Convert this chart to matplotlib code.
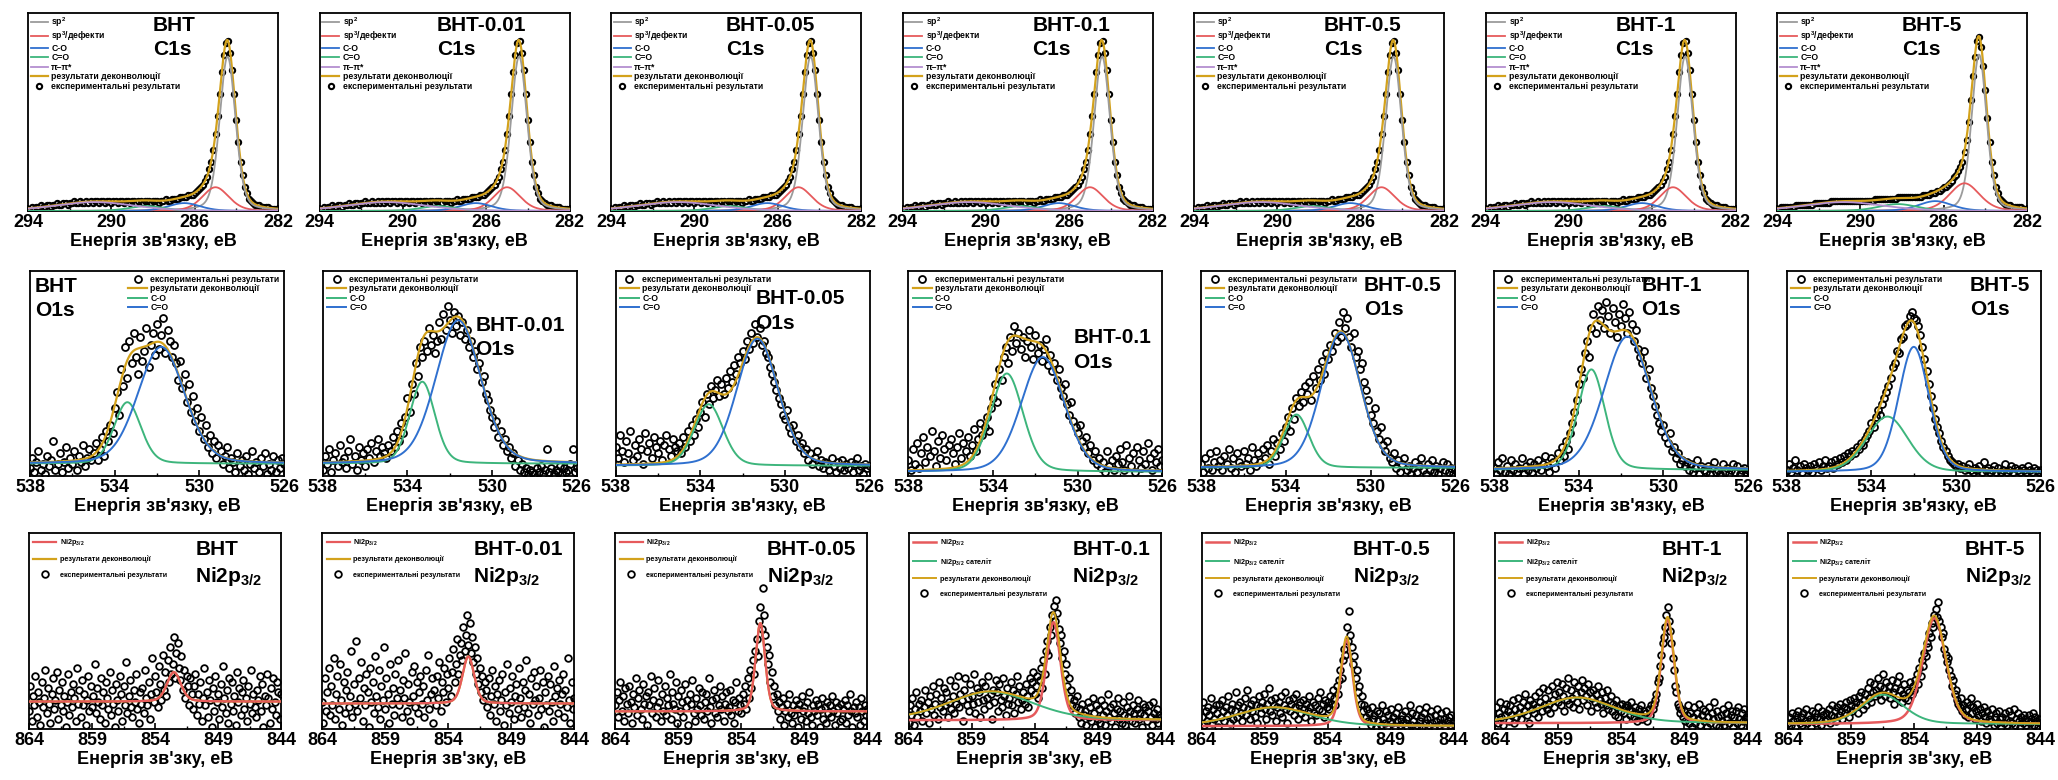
import numpy as np
import matplotlib
matplotlib.use("Agg")
from matplotlib import pyplot as plt

plt.rcParams['font.family'] = ['Liberation Sans', 'DejaVu Sans']
plt.rcParams['font.weight'] = 'bold'
plt.rcParams['mathtext.fontset'] = 'custom'
plt.rcParams['mathtext.rm'] = 'Liberation Sans:bold'
plt.rcParams['mathtext.it'] = 'Liberation Sans:bold'
plt.rcParams['mathtext.bf'] = 'Liberation Sans:bold'

samples = ['BHT', 'BHT-0.01', 'BHT-0.05', 'BHT-0.1', 'BHT-0.5', 'BHT-1', 'BHT-5']

# ---------------- C1s (294 -> 282 eV, step 0.1), intensity in % of panel height
c1s_energy = np.linspace(294, 282, 121)
c1s_exp_low = [1, 1, 2, 1, 2, 2, 3, 2, 2, 3,
               3, 2, 3, 3, 4, 3, 3, 4, 4, 3,
               4, 4, 5, 4, 4, 5, 4, 4, 5, 4,
               5, 4, 5, 5, 4, 5, 5, 4, 5, 5,
               4, 5, 5, 4, 5, 5, 4, 5, 5, 4,
               5, 5, 4, 5, 5, 4, 5, 5, 5, 4,
               5, 5, 5, 4, 5, 5, 6, 5, 5, 6,
               6, 6, 6, 7, 7, 7, 7, 8, 8, 8,
               9, 10, 11, 12, 13, 15, 17, 21, 25, 31,
               39, 48, 59, 70, 79, 85, 86, 80, 71, 59,
               46, 35, 25, 18, 12, 9, 6, 5, 4, 3,
               3, 3, 2, 2, 2, 2, 1, 1, 1, 1,
               1]
c1s_exp_5 = [1, 1, 2, 2, 2, 2, 2, 2, 2, 3,
             3, 3, 3, 3, 3, 3, 3, 3, 4, 4,
             4, 4, 4, 4, 4, 4, 5, 5, 5, 5,
             5, 5, 5, 5, 5, 5, 5, 5, 5, 5,
             5, 5, 5, 5, 5, 5, 5, 6, 6, 6,
             6, 6, 6, 6, 6, 6, 6, 6, 7, 7,
             7, 7, 7, 7, 7, 7, 7, 7, 7, 7,
             8, 8, 8, 8, 9, 9, 9, 10, 10, 11,
             12, 12, 13, 14, 15, 17, 18, 20, 22, 25,
             30, 36, 45, 56, 68, 78, 86, 88, 83, 73,
             61, 47, 35, 25, 18, 12, 9, 6, 5, 4,
             3, 3, 3, 2, 2, 2, 2, 2, 1, 1,
             1]
c1s_exp = [c1s_exp_low] * 6 + [c1s_exp_5]
# (centre eV, height %, FWHM eV) for each sample
c1s_sp2 = [(284.42, 78, 0.90)] * 6 + [(284.30, 79, 0.85)]
c1s_sp3 = [(285.0, 12, 1.5)] * 6 + [(285.0, 14, 1.7)]
c1s_co = [(286.5, 4, 1.8)] * 6 + [(286.4, 5, 1.9)]
c1s_cdo = [(288.3, 2.5, 2.0)] * 6 + [(288.2, 3.5, 2.2)]
c1s_pi = [(290.8, 4.5, 4.5)] * 7

# ---------------- O1s (538 -> 526 eV, step 0.1)
o1s_energy = np.linspace(538, 526, 121)
o1s_exp_bht = [4, 9, 2, 7, 12, 3, 6, 1, 10, 5,
               8, 17, 3, 6, 11, 2, 7, 14, 4, 9,
               6, 12, 3, 10, 7, 15, 5, 9, 13, 8,
               11, 16, 8, 13, 19, 10, 22, 17, 25, 21,
               33, 41, 30, 52, 44, 63, 48, 66, 55, 70,
               58, 50, 68, 56, 61, 72, 53, 64, 70, 59,
               74, 62, 69, 77, 60, 71, 66, 58, 64, 55,
               47, 56, 43, 50, 36, 45, 31, 39, 27, 33,
               22, 29, 18, 25, 14, 20, 11, 17, 9, 15,
               12, 6, 10, 14, 4, 9, 7, 2, 11, 5,
               8, 3, 10, 1, 6, 12, 4, 7, 2, 9,
               5, 11, 1, 6, 3, 10, 2, 8, 4, 9,
               6]
o1s_exp_001 = [3, 10, 6, 13, 2, 8, 11, 5, 15, 7,
               9, 4, 12, 18, 6, 10, 3, 14, 8, 11,
               5, 13, 9, 16, 7, 12, 18, 10, 14, 11,
               9, 15, 12, 19, 14, 22, 17, 26, 21, 29,
               38, 31, 45, 40, 55, 49, 63, 58, 66, 61,
               72, 64, 69, 60, 66, 75, 67, 79, 71, 83,
               76, 70, 80, 73, 78, 69, 75, 67, 71, 63,
               66, 58, 61, 52, 55, 46, 49, 40, 37, 32,
               29, 24, 27, 19, 22, 15, 18, 12, 14, 9,
               11, 5, 8, 3, 6, 2, 4, 1, 3, 2,
               1, 4, 2, 5, 1, 3, 13, 2, 4, 1,
               3, 2, 5, 1, 4, 2, 3, 6, 13, 2,
               4]
o1s_exp_005 = [14, 9, 20, 12, 7, 17, 11, 22, 8, 15,
               10, 18, 13, 6, 21, 12, 16, 9, 19, 14,
               11, 17, 8, 15, 20, 13, 10, 18, 14, 12,
               16, 11, 19, 14, 22, 17, 25, 20, 28, 24,
               31, 36, 29, 40, 35, 44, 38, 42, 47, 39,
               45, 40, 48, 43, 51, 46, 54, 50, 58, 55,
               61, 57, 66, 62, 70, 65, 74, 68, 72, 64,
               66, 60, 58, 53, 50, 46, 42, 38, 35, 30,
               28, 32, 24, 21, 25, 17, 20, 14, 16, 11,
               13, 8, 11, 6, 9, 12, 5, 8, 4, 7,
               6, 3, 9, 5, 2, 7, 4, 8, 3, 6,
               4, 7, 2, 6, 9, 3, 5, 1, 6, 4,
               5]
o1s_exp_01 = [8, 3, 13, 6, 16, 4, 11, 19, 7, 14,
              10, 22, 12, 5, 17, 9, 20, 13, 8, 15,
              18, 11, 6, 14, 21, 9, 16, 12, 19, 10,
              15, 23, 12, 18, 26, 20, 24, 29, 22, 33,
              38, 45, 36, 52, 47, 58, 63, 55, 68, 61,
              73, 65, 70, 62, 68, 58, 66, 71, 63, 57,
              69, 60, 64, 56, 62, 67, 54, 59, 51, 55,
              47, 52, 43, 39, 45, 35, 30, 36, 27, 24,
              21, 25, 17, 14, 19, 11, 15, 8, 12, 6,
              9, 4, 7, 2, 12, 5, 8, 3, 10, 6,
              13, 7, 3, 15, 9, 5, 11, 2, 14, 8,
              4, 12, 6, 16, 9, 3, 11, 7, 13, 5,
              8]
o1s_exp_05 = [6, 2, 9, 4, 11, 3, 7, 12, 5, 8,
              3, 10, 6, 13, 4, 9, 2, 11, 7, 5,
              12, 6, 9, 3, 14, 8, 5, 11, 7, 13,
              9, 15, 6, 12, 18, 10, 16, 13, 21, 17,
              24, 29, 22, 33, 28, 38, 34, 41, 36, 44,
              40, 46, 37, 49, 43, 52, 47, 56, 50, 60,
              57, 64, 61, 70, 66, 75, 68, 80, 72, 77,
              68, 63, 70, 58, 61, 52, 55, 46, 42, 37,
              30, 26, 33, 22, 18, 24, 15, 12, 17, 9,
              7, 11, 4, 8, 2, 6, 9, 3, 5, 1,
              4, 7, 2, 5, 9, 3, 1, 6, 3, 8,
              2, 5, 1, 4, 7, 3, 6, 2, 4, 1,
              3]
o1s_exp_1 = [4, 1, 7, 3, 9, 2, 5, 1, 8, 3,
             6, 2, 4, 9, 1, 5, 3, 7, 2, 6,
             4, 8, 3, 6, 10, 5, 2, 9, 7, 4,
             11, 8, 14, 10, 17, 13, 21, 26, 31, 37,
             45, 52, 48, 60, 66, 58, 72, 79, 70, 83,
             76, 81, 72, 85, 78, 70, 82, 75, 68, 79,
             73, 84, 77, 70, 80, 74, 66, 71, 62, 58,
             55, 61, 48, 52, 43, 39, 34, 30, 26, 22,
             25, 19, 16, 21, 12, 14, 9, 11, 6, 8,
             5, 7, 3, 6, 2, 4, 8, 1, 5, 3,
             2, 5, 1, 4, 7, 2, 3, 1, 6, 2,
             4, 1, 3, 6, 2, 5, 1, 3, 4, 2,
             3]
o1s_exp_5 = [3, 6, 2, 4, 8, 3, 5, 2, 6, 4,
             3, 5, 2, 6, 4, 7, 3, 5, 8, 4,
             5, 7, 4, 8, 6, 9, 7, 10, 8, 11,
             10, 12, 11, 14, 13, 16, 15, 18, 20, 22,
             26, 24, 29, 32, 30, 35, 38, 41, 44, 48,
             53, 55, 61, 60, 67, 68, 73, 74, 78, 80,
             77, 76, 73, 69, 63, 57, 51, 45, 39, 33,
             28, 24, 21, 17, 14, 12, 10, 8, 7, 6,
             5, 6, 4, 5, 3, 4, 6, 3, 2, 4,
             3, 5, 2, 7, 3, 4, 2, 3, 5, 2,
             4, 2, 3, 6, 2, 3, 5, 2, 4, 3,
             2, 4, 3, 2, 5, 3, 2, 4, 3, 2,
             3]
o1s_exp = [o1s_exp_bht, o1s_exp_001, o1s_exp_005, o1s_exp_01,
           o1s_exp_05, o1s_exp_1, o1s_exp_5]
o1s_base = [6, 6, 5, 2, 4, 3, 2]
o1s_co = [(533.4, 30, 1.5), (533.3, 40, 1.4), (533.6, 30, 1.6), (533.35, 48, 1.8),
          (533.5, 26, 1.4), (533.4, 49, 1.5), (533.25, 27, 2.3)]
o1s_cdo = [(531.8, 57, 2.6), (531.6, 70, 2.5), (531.3, 62, 2.3), (531.65, 56, 2.4),
           (531.4, 66, 2.2), (531.7, 65, 2.6), (532.0, 61, 1.7)]

# ---------------- Ni2p3/2 (864 -> 844 eV, step 0.1)
ni_energy = np.linspace(864, 844, 201)
ni_exp_bht = [9, 22, 4, 17, 12, 27, 6, 19, 14, 2,
              24, 11, 16, 30, 8, 21, 13, 3, 18, 26,
              10, 15, 29, 5, 20, 12, 24, 9, 17, 1,
              14, 28, 7, 19, 11, 23, 16, 4, 31, 13,
              20, 6, 25, 12, 18, 2, 15, 27, 9, 22,
              11, 17, 33, 8, 21, 14, 5, 26, 12, 19,
              3, 24, 16, 10, 29, 7, 20, 13, 1, 23,
              15, 9, 27, 18, 4, 22, 12, 34, 8, 17,
              25, 11, 6, 20, 14, 28, 10, 3, 19, 13,
              21, 8, 30, 16, 12, 24, 5, 18, 36, 14,
              27, 19, 11, 32, 23, 15, 38, 20, 29, 17,
              35, 24, 42, 28, 33, 47, 26, 39, 44, 31,
              25, 37, 20, 30, 16, 27, 22, 12, 26, 18,
              10, 22, 28, 7, 18, 13, 24, 4, 16, 31,
              12, 19, 6, 25, 15, 1, 21, 9, 27, 14,
              18, 5, 23, 11, 32, 16, 8, 20, 3, 26,
              13, 24, 9, 17, 2, 29, 14, 21, 7, 19,
              25, 10, 16, 4, 22, 13, 30, 8, 18, 11,
              6, 20, 15, 27, 9, 23, 1, 17, 12, 28,
              16, 3, 21, 10, 26, 14, 7, 24, 19, 5,
              18]
ni_exp_001 = [14, 3, 26, 9, 19, 31, 7, 22, 12, 36,
              5, 18, 27, 10, 33, 15, 2, 24, 8, 20,
              29, 11, 17, 40, 6, 23, 13, 45, 9, 26,
              16, 34, 4, 21, 12, 28, 19, 1, 31, 14,
              24, 8, 37, 17, 11, 30, 5, 22, 15, 42,
              10, 26, 18, 3, 33, 13, 21, 7, 28, 16,
              35, 12, 20, 6, 25, 16, 39, 9, 23, 14,
              4, 29, 17, 32, 11, 24, 8, 19, 27, 13,
              22, 6, 30, 15, 38, 10, 18, 26, 3, 20,
              12, 27, 16, 34, 9, 24, 19, 31, 14, 28,
              21, 36, 17, 29, 41, 24, 33, 46, 28, 38,
              44, 35, 52, 40, 48, 58, 43, 54, 39, 47,
              34, 42, 28, 36, 23, 31, 19, 27, 15, 24,
              20, 11, 26, 7, 17, 30, 13, 22, 4, 18,
              25, 9, 15, 28, 2, 19, 12, 33, 8, 21,
              14, 27, 5, 17, 23, 10, 31, 16, 6, 24,
              11, 20, 35, 8, 18, 3, 26, 13, 29, 15,
              22, 7, 16, 30, 10, 24, 1, 19, 12, 27,
              9, 23, 14, 4, 32, 17, 21, 8, 25, 13,
              18, 28, 6, 20, 11, 36, 15, 3, 24, 10,
              16]
ni_exp_005 = [12, 19, 6, 15, 24, 9, 17, 4, 21, 13,
              8, 22, 14, 3, 18, 11, 26, 7, 16, 20,
              10, 5, 23, 13, 17, 2, 19, 12, 27, 8,
              15, 21, 6, 11, 25, 14, 4, 18, 9, 22,
              7, 16, 12, 28, 5, 19, 13, 10, 24, 3,
              17, 9, 20, 14, 6, 23, 11, 15, 2, 18,
              13, 25, 8, 4, 16, 10, 21, 12, 7, 19,
              5, 14, 18, 9, 26, 11, 3, 15, 20, 8,
              16, 6, 12, 22, 10, 17, 4, 13, 19, 9,
              11, 20, 7, 15, 3, 14, 24, 9, 16, 12,
              8, 18, 13, 22, 10, 26, 16, 30, 21, 35,
              28, 40, 46, 37, 55, 62, 51, 72, 58, 48,
              42, 33, 38, 24, 29, 17, 22, 12, 18, 9,
              14, 5, 11, 16, 2, 9, 13, 6, 18, 8,
              3, 12, 7, 15, 10, 1, 13, 5, 17, 9,
              11, 4, 14, 8, 19, 6, 2, 12, 9, 15,
              7, 13, 1, 10, 16, 5, 11, 3, 14, 8,
              12, 6, 17, 9, 2, 14, 8, 11, 4, 13,
              5, 10, 15, 3, 12, 7, 18, 9, 1, 11,
              8, 14, 6, 11, 2, 16, 9, 4, 12, 7,
              10]
ni_exp_01 = [3, 12, 7, 16, 2, 10, 19, 6, 13, 9,
             15, 4, 11, 20, 8, 14, 3, 17, 10, 22,
             7, 13, 18, 5, 24, 11, 16, 9, 21, 12,
             19, 6, 14, 25, 10, 17, 8, 22, 13, 27,
             11, 18, 15, 4, 20, 26, 12, 16, 9, 23,
             17, 13, 28, 8, 21, 14, 19, 6, 24, 15,
             10, 22, 16, 27, 12, 18, 5, 20, 14, 25,
             19, 9, 23, 15, 11, 26, 17, 7, 21, 13,
             16, 24, 12, 20, 8, 18, 27, 14, 22, 10,
             15, 19, 13, 23, 17, 11, 26, 20, 24, 29,
             18, 22, 27, 16, 25, 31, 21, 35, 28, 40,
             45, 38, 52, 48, 58, 63, 55, 66, 59, 51,
             44, 48, 36, 40, 28, 33, 22, 26, 16, 20,
             12, 15, 8, 11, 17, 6, 10, 3, 13, 7,
             9, 2, 14, 6, 11, 4, 16, 8, 1, 12,
             5, 10, 3, 15, 7, 12, 2, 9, 18, 6,
             11, 4, 13, 8, 1, 10, 16, 5, 9, 3,
             14, 7, 2, 11, 6, 17, 9, 4, 12, 8,
             3, 10, 15, 5, 8, 1, 13, 7, 11, 4,
             9, 12, 6, 2, 14, 8, 5, 10, 3, 7,
             6]
ni_exp_05 = [6, 14, 2, 9, 4, 11, 7, 16, 3, 10,
             5, 12, 8, 1, 13, 6, 15, 9, 4, 11,
             7, 17, 3, 10, 13, 5, 9, 19, 6, 12,
             14, 8, 4, 11, 16, 7, 20, 10, 5, 13,
             9, 15, 6, 12, 3, 17, 11, 8, 14, 18,
             10, 5, 13, 21, 9, 15, 7, 12, 16, 4,
             11, 14, 8, 17, 6, 12, 19, 10, 3, 15,
             9, 13, 16, 7, 11, 18, 5, 12, 14, 8,
             15, 10, 6, 13, 9, 17, 11, 4, 14, 8,
             12, 7, 16, 10, 19, 9, 13, 6, 15, 11,
             14, 10, 17, 13, 20, 16, 12, 22, 18, 25,
             30, 26, 35, 41, 38, 52, 45, 60, 48, 42,
             33, 37, 26, 30, 19, 22, 13, 17, 9, 12,
             6, 10, 4, 8, 2, 11, 5, 7, 1, 9,
             4, 8, 2, 12, 5, 3, 9, 1, 7, 4,
             10, 3, 6, 1, 8, 4, 11, 2, 5, 7,
             3, 9, 5, 1, 6, 12, 2, 8, 4, 1,
             7, 2, 10, 4, 6, 1, 8, 3, 11, 5,
             2, 6, 9, 3, 1, 7, 4, 10, 2, 5,
             8, 3, 5, 1, 9, 4, 6, 2, 7, 3,
             4]
ni_exp_1 = [5, 11, 3, 8, 14, 6, 2, 10, 7, 13,
            9, 4, 12, 7, 15, 3, 10, 6, 16, 8,
            11, 5, 14, 9, 18, 7, 12, 3, 15, 10,
            13, 8, 17, 11, 6, 19, 14, 9, 21, 12,
            16, 10, 20, 13, 8, 22, 15, 11, 18, 24,
            14, 19, 12, 23, 17, 9, 21, 15, 26, 13,
            20, 16, 11, 24, 18, 14, 22, 10, 19, 25,
            15, 21, 17, 12, 23, 19, 9, 16, 20, 14,
            18, 11, 22, 15, 13, 19, 8, 16, 12, 20,
            10, 14, 17, 9, 13, 7, 15, 11, 6, 12,
            9, 13, 8, 11, 5, 12, 10, 7, 14, 9,
            6, 11, 8, 4, 10, 7, 12, 5, 9, 6,
            8, 4, 10, 7, 12, 10, 13, 15, 18, 24,
            26, 32, 38, 44, 47, 52, 58, 62, 55, 50,
            44, 36, 30, 22, 19, 13, 11, 8, 10, 6,
            9, 4, 7, 12, 3, 8, 1, 6, 11, 3,
            8, 5, 13, 2, 7, 10, 4, 9, 1, 6,
            11, 3, 8, 5, 14, 2, 9, 6, 1, 7,
            4, 10, 2, 8, 5, 12, 3, 7, 9, 1,
            6, 9, 3, 11, 5, 2, 8, 4, 10, 6,
            5]
ni_exp_5 = [3, 6, 2, 8, 4, 1, 7, 5, 9, 3,
            6, 2, 8, 4, 10, 3, 7, 5, 1, 9,
            4, 8, 3, 6, 11, 5, 2, 9, 7, 4,
            8, 5, 10, 3, 7, 12, 6, 9, 4, 11,
            7, 13, 9, 5, 11, 8, 14, 10, 6, 15,
            12, 9, 16, 11, 14, 8, 17, 13, 19, 10,
            15, 18, 12, 21, 16, 24, 14, 19, 23, 17,
            20, 26, 18, 22, 15, 28, 21, 17, 24, 19,
            22, 16, 25, 19, 13, 21, 24, 17, 27, 20,
            14, 18, 23, 16, 20, 15, 19, 24, 18, 22,
            20, 25, 28, 23, 31, 27, 35, 32, 39, 37,
            44, 42, 49, 47, 54, 52, 58, 61, 57, 65,
            55, 52, 47, 49, 41, 38, 34, 36, 30, 27,
            22, 25, 18, 20, 15, 13, 11, 16, 9, 12,
            7, 10, 14, 6, 12, 16, 8, 11, 5, 9,
            13, 7, 10, 4, 8, 11, 6, 3, 9, 5,
            7, 4, 10, 2, 6, 8, 3, 9, 5, 1,
            6, 3, 8, 5, 2, 9, 4, 7, 3, 10,
            2, 5, 8, 4, 1, 6, 3, 7, 5, 2,
            4, 7, 3, 5, 8, 2, 6, 4, 1, 5,
            3]
ni_exp = [ni_exp_bht, ni_exp_001, ni_exp_005, ni_exp_01,
          ni_exp_05, ni_exp_1, ni_exp_5]
ni_base = [14, 13, 9, 4.5, 1.5, 3, 2.5]
ni_main = [(852.5, 15, 1.3), (852.4, 24, 1.1), (852.5, 45, 0.9), (852.5, 50, 1.3),
           (852.5, 44, 1.1), (850.3, 53, 1.2), (852.4, 54, 2.2)]
ni_sat = [None, None, None, (857.5, 14.5, 8), (858.3, 9.5, 7), (857.5, 13, 7), (856.5, 15, 4)]

c1s_title_x = [0.50, 0.47, 0.46, 0.52, 0.52, 0.52, 0.50]
o1s_title_xy = [(0.02, 0.97), (0.60, 0.78), (0.55, 0.91), (0.65, 0.72),
                (0.64, 0.975), (0.58, 0.975), (0.72, 0.975)]
ni_title_x = [0.66, 0.60, 0.60, 0.65, 0.60, 0.66, 0.70]

GREY, RED, BLUE, GREEN, PURPLE, GOLD = '#9b9b9b', '#e65a5c', '#2f70cf', '#3db57c', '#b48fd0', '#d3a21c'
XL1 = "Енергія зв'язку, еВ"
XL3 = "Енергія зв'зку, еВ"


def pv(x, peak, eta):
    c, h, w = peak
    u = ((x - c) / w) ** 2
    return h * ((1 - eta) * np.exp(-4 * np.log(2) * u) + eta / (1 + 4 * u))


def style(ax, lims, major, minor, xlabel):
    ax.set_xlim(*lims)
    ax.set_ylim(0, 100)
    ax.set_yticks([])
    ax.set_xticks(major)
    ax.set_xticklabels([str(v) for v in major])
    ax.set_xticks(minor, minor=True)
    ax.tick_params(axis='x', which='major', direction='in', length=4, width=1.2,
                   labelsize=13, pad=2)
    ax.tick_params(axis='x', which='minor', direction='in', length=2.5, width=1.0)
    ax.set_xlabel(xlabel, fontsize=13, fontweight='bold', labelpad=1)
    for s in ax.spines.values():
        s.set_linewidth(1.3)


fig = plt.figure(figsize=(20.58, 7.8), dpi=100)
W, H = 2058, 780


def add_ax(left, top, w, h):
    return fig.add_axes([left / W, 1 - (top + h) / H, w / W, h / H])


# row 1: C1s
xf = np.linspace(294, 282, 800)
for i, name in enumerate(samples):
    ax = add_ax(28 + 291.5 * i, 13, 250, 198)
    h_exp, = ax.plot(c1s_energy, c1s_exp[i], 'o', ms=3.8, mfc='white', mec='black',
                     mew=1.5, zorder=2)
    comps = [pv(xf, p[i], 0.3) for p in (c1s_sp2, c1s_sp3, c1s_co, c1s_cdo, c1s_pi)]
    h_fit, = ax.plot(xf, sum(comps), color=GOLD, lw=1.6, zorder=3)
    hs = []
    for y, col in zip(comps, (GREY, RED, BLUE, GREEN, PURPLE)):
        hs.append(ax.plot(xf, y, color=col, lw=1.3, zorder=4)[0])
    ax.legend(hs + [h_fit, h_exp],
              ['sp$^2$', 'sp$^3$/дефекти', 'C-O', 'C=O', 'π–π*',
               'результати деконволюції', 'експериментальні результати'],
              loc='upper left', fontsize=6.2, frameon=False, handlelength=2.0,
              handletextpad=0.4, labelspacing=0.05, borderaxespad=0.1, borderpad=0.2,
              numpoints=1)
    ax.text(c1s_title_x[i], 0.985, name + '\nC1s', transform=ax.transAxes, ha='left',
            va='top', fontsize=15, fontweight='bold', linespacing=1.35)
    style(ax, (294, 282), [294, 290, 286, 282], [292, 288, 284], XL1)

# row 2: O1s
xf = np.linspace(538, 526, 800)
for i, name in enumerate(samples):
    ax = add_ax(30 + 292.8 * i, 271, 254, 205)
    b = o1s_base[i]
    h_exp, = ax.plot(o1s_energy, o1s_exp[i], 'o', ms=5.0, mfc='none', mec='black',
                     mew=1.3, zorder=2)
    g = pv(xf, o1s_co[i], 0.2)
    bl = pv(xf, o1s_cdo[i], 0.2)
    h_fit, = ax.plot(xf, b + g + bl, color=GOLD, lw=1.6, zorder=3)
    h_g, = ax.plot(xf, b + g, color=GREEN, lw=1.4, zorder=4)
    h_b, = ax.plot(xf, b + bl, color=BLUE, lw=1.4, zorder=4)
    ax.legend([h_exp, h_fit, h_g, h_b],
              ['експериментальні результати', 'результати деконволюції', 'C-O', 'C=O'],
              loc='upper right' if i == 0 else 'upper left', fontsize=6.2, frameon=False,
              handlelength=2.2, handletextpad=0.4, labelspacing=0.02, borderaxespad=0.2,
              borderpad=0.3, numpoints=1)
    tx, ty = o1s_title_xy[i]
    ax.text(tx, ty, name + '\nO1s', transform=ax.transAxes, ha='left', va='top',
            fontsize=15, fontweight='bold', linespacing=1.35)
    style(ax, (538, 526), [538, 534, 530, 526], [536, 532, 528], XL1)

# row 3: Ni2p3/2
xf = np.linspace(864, 844, 800)
for i, name in enumerate(samples):
    ax = add_ax(29 + 293.2 * i, 533, 252, 196)
    b = ni_base[i]
    h_exp, = ax.plot(ni_energy, ni_exp[i], 'o', ms=4.8, mfc='none', mec='black',
                     mew=1.3, zorder=2)
    m = pv(xf, ni_main[i], 0.3)
    if ni_sat[i] is None:
        h_fit, = ax.plot(xf, b + m, color=GOLD, lw=1.6, zorder=3)
        h_r, = ax.plot(xf, b + m, color=RED, lw=1.6, zorder=4)
        handles = [h_r, h_fit, h_exp]
        labels = ['Ni2p$_{3/2}$', 'результати деконволюції', 'експериментальні результати']
    else:
        s = pv(xf, ni_sat[i], 0.3)
        h_r, = ax.plot(xf, b + m, color=RED, lw=1.8, zorder=3)
        h_s, = ax.plot(xf, b + s, color=GREEN, lw=1.4, zorder=3)
        h_fit, = ax.plot(xf, b + m + s, color=GOLD, lw=1.4, zorder=4)
        handles = [h_r, h_s, h_fit, h_exp]
        labels = ['Ni2p$_{3/2}$', 'Ni2p$_{3/2}$ сателіт', 'результати деконволюції',
                  'експериментальні результати']
    ax.legend(handles, labels, loc='upper left', fontsize=5.2, frameon=False,
              handlelength=3.2, handletextpad=0.5, labelspacing=1.0, borderaxespad=0.3,
              borderpad=0.3, numpoints=1)
    ax.text(ni_title_x[i], 0.965, name + '\nNi2p$_{3/2}$', transform=ax.transAxes,
            ha='left', va='top', fontsize=15, fontweight='bold', linespacing=1.35)
    style(ax, (864, 844), [864, 859, 854, 849, 844], [861.5, 856.5, 851.5, 846.5], XL3)

fig.savefig('out.png', dpi=100)
